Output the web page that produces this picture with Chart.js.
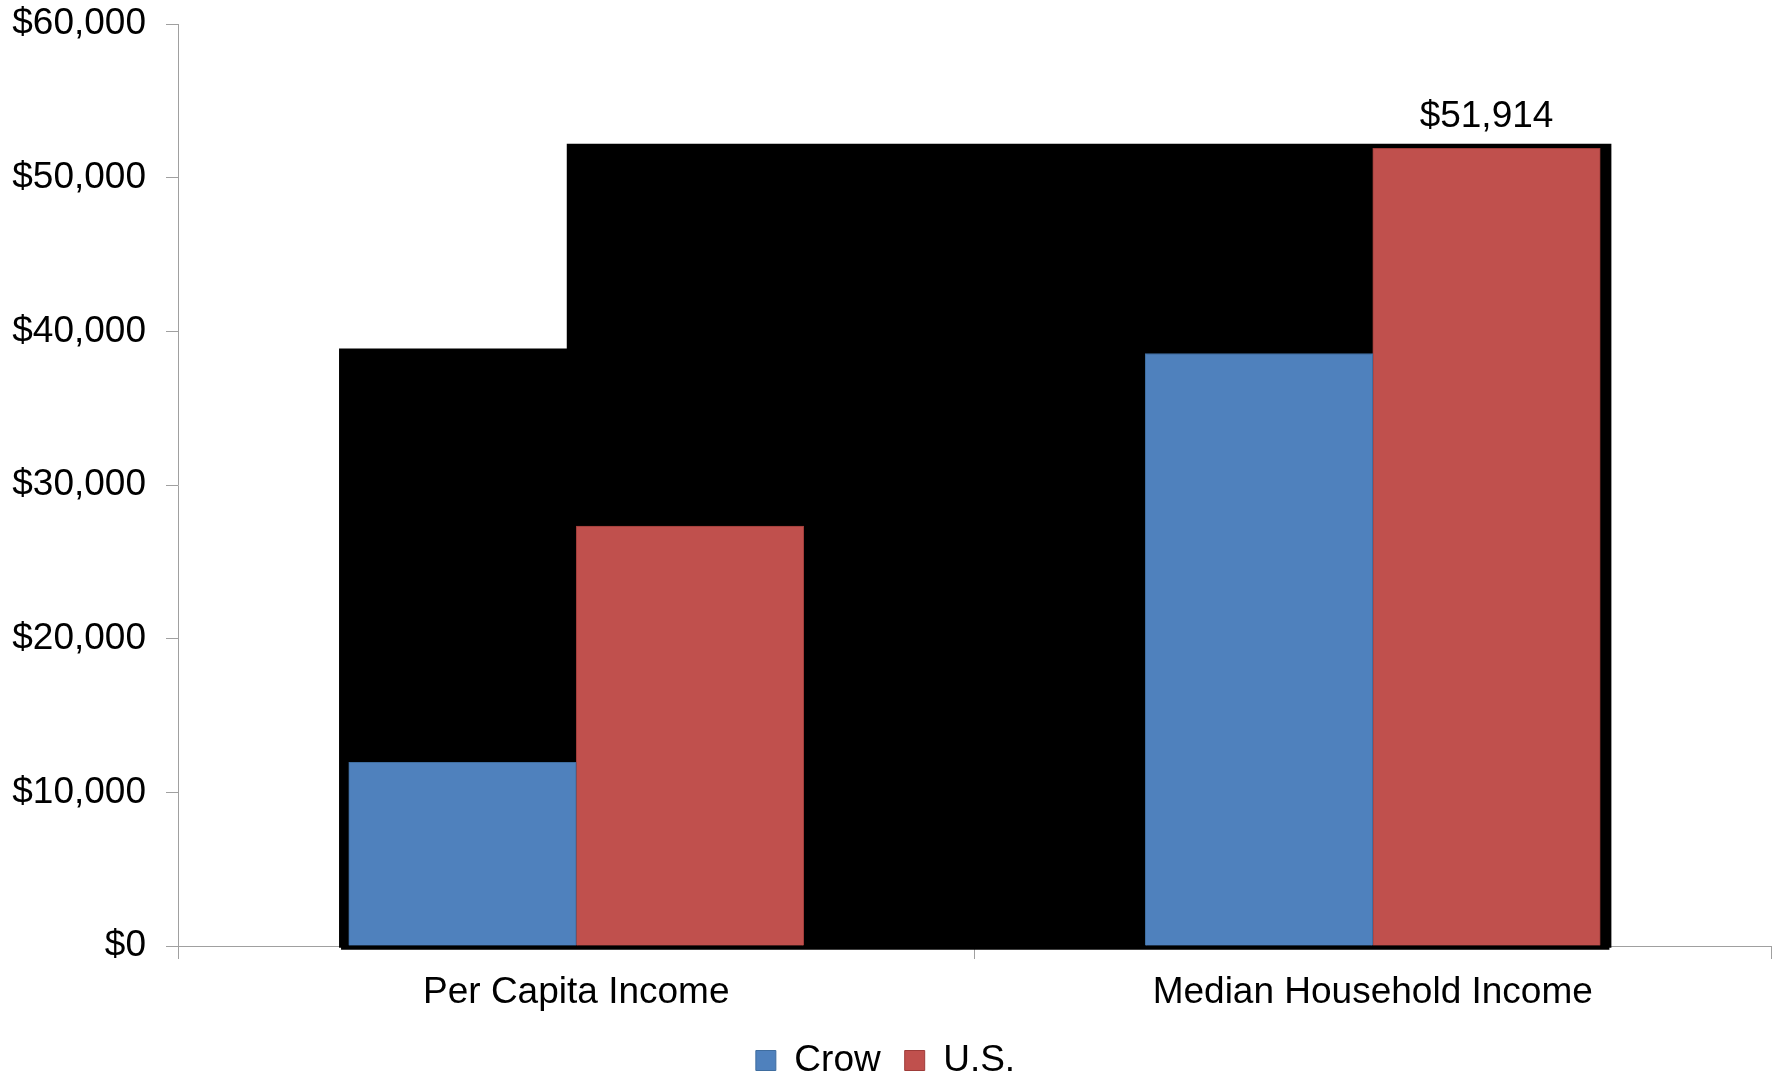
<!DOCTYPE html>
<html>
<head>
<meta charset="utf-8">
<title>Income: Crow vs U.S.</title>
<script src="https://cdn.jsdelivr.net/npm/chart.js@4/dist/chart.umd.min.js"></script>
<style>
  html, body { margin: 0; padding: 0; background: #fff; }
  #wrap { width: 1783px; height: 1077px; position: relative; }
</style>
</head>
<body>
<div id="wrap"><canvas id="incomeChart"></canvas></div>
<script>
const categories = ["Per Capita Income", "Median Household Income"];
const crowValues = [11960, 38560];
const usValues = [27334, 51914];
const yTicks = [0, 10000, 20000, 30000, 40000, 50000, 60000];

// black backdrop behind the bars, in category units (0 = first category centre)
const shadowX = [-0.2953, -0.2953, -0.0094, -0.0094, 1.2971, 1.2971];
const shadowY = [-110, 38750, 38750, 52080, 52080, -110];
const shadowBaseX = [-0.2953, 1.2971];
const shadowBaseY = [-110, -110];

const fontFamily = "'Liberation Sans', Arial, sans-serif";
const fontSize = 37;
const axisGrey = "#a0a0a0";

function money(v) {
  return "$" + Number(v).toLocaleString("en-US");
}

function points(xs, ys) {
  return xs.map((x, i) => ({ x: x, y: ys[i] }));
}

// value label above the U.S. median household bar
const valueLabel = {
  id: "valueLabel",
  afterDatasetsDraw(chart) {
    const meta = chart.getDatasetMeta(3);
    const bar = meta.data[1];
    const ctx = chart.ctx;
    ctx.save();
    ctx.font = fontSize + "px " + fontFamily;
    ctx.fillStyle = "#000";
    ctx.textAlign = "center";
    ctx.textBaseline = "alphabetic";
    ctx.fillText(money(usValues[1]), bar.x, bar.y - 21);
    ctx.restore();
  }
};

new Chart(document.getElementById("incomeChart"), {
  type: "bar",
  data: {
    labels: categories,
    datasets: [
      {
        type: "line",
        label: "backdrop",
        data: points(shadowX, shadowY),
        xAxisID: "xs",
        borderColor: "#000",
        borderWidth: 4,
        backgroundColor: "#000",
        fill: "origin",
        pointRadius: 0,
        tension: 0,
        clip: false,
        order: 3
      },
      {
        type: "line",
        label: "backdrop",
        data: points(shadowBaseX, shadowBaseY),
        xAxisID: "xs",
        borderColor: "#000",
        borderWidth: 4,
        fill: false,
        pointRadius: 0,
        clip: false,
        order: 2
      },
      {
        label: "Crow",
        data: crowValues,
        backgroundColor: "#4f81bd",
        borderColor: "#3f6d9f",
        borderWidth: 1,
        order: 1
      },
      {
        label: "U.S.",
        data: usValues,
        backgroundColor: "#c0504d",
        borderColor: "#9e3c39",
        borderWidth: 1,
        order: 1
      }
    ]
  },
  options: {
    responsive: true,
    maintainAspectRatio: false,
    animation: false,
    layout: { padding: { top: 24, right: 12, bottom: -12 } },
    datasets: {
      bar: { barThickness: 227.5, barPercentage: 1 }
    },
    plugins: {
      tooltip: { enabled: false },
      legend: {
        position: "bottom",
        labels: {
          filter: item => item.text !== "backdrop",
          boxWidth: 20,
          boxHeight: 20,
          padding: 24,
          color: "#000",
          font: { family: fontFamily, size: fontSize }
        }
      }
    },
    scales: {
      x: {
        offset: true,
        grid: {
          offset: true,
          drawOnChartArea: false,
          drawTicks: true,
          tickLength: 13,
          color: axisGrey
        },
        border: { color: axisGrey, width: 1 },
        ticks: {
          color: "#000",
          padding: 12,
          maxRotation: 0,
          font: { family: fontFamily, size: fontSize }
        },
        afterFit(scale) { scale.height = 72; }
      },
      xs: {
        type: "linear",
        display: false,
        offset: false,
        grid: { offset: false },
        min: -0.5,
        max: 1.5
      },
      y: {
        min: 0,
        max: 60000,
        afterBuildTicks(scale) {
          scale.ticks = yTicks.map(v => ({ value: v }));
        },
        grid: {
          drawOnChartArea: false,
          drawTicks: true,
          tickLength: 12,
          color: axisGrey
        },
        border: { color: axisGrey, width: 1 },
        ticks: {
          color: "#000",
          padding: 20,
          callback: v => money(v),
          font: { family: fontFamily, size: fontSize }
        },
        afterFit(scale) {
          scale.width = 178;
          scale.paddingTop = 0;
          scale.paddingBottom = 0;
        }
      }
    }
  },
  plugins: [valueLabel]
});
</script>
</body>
</html>
